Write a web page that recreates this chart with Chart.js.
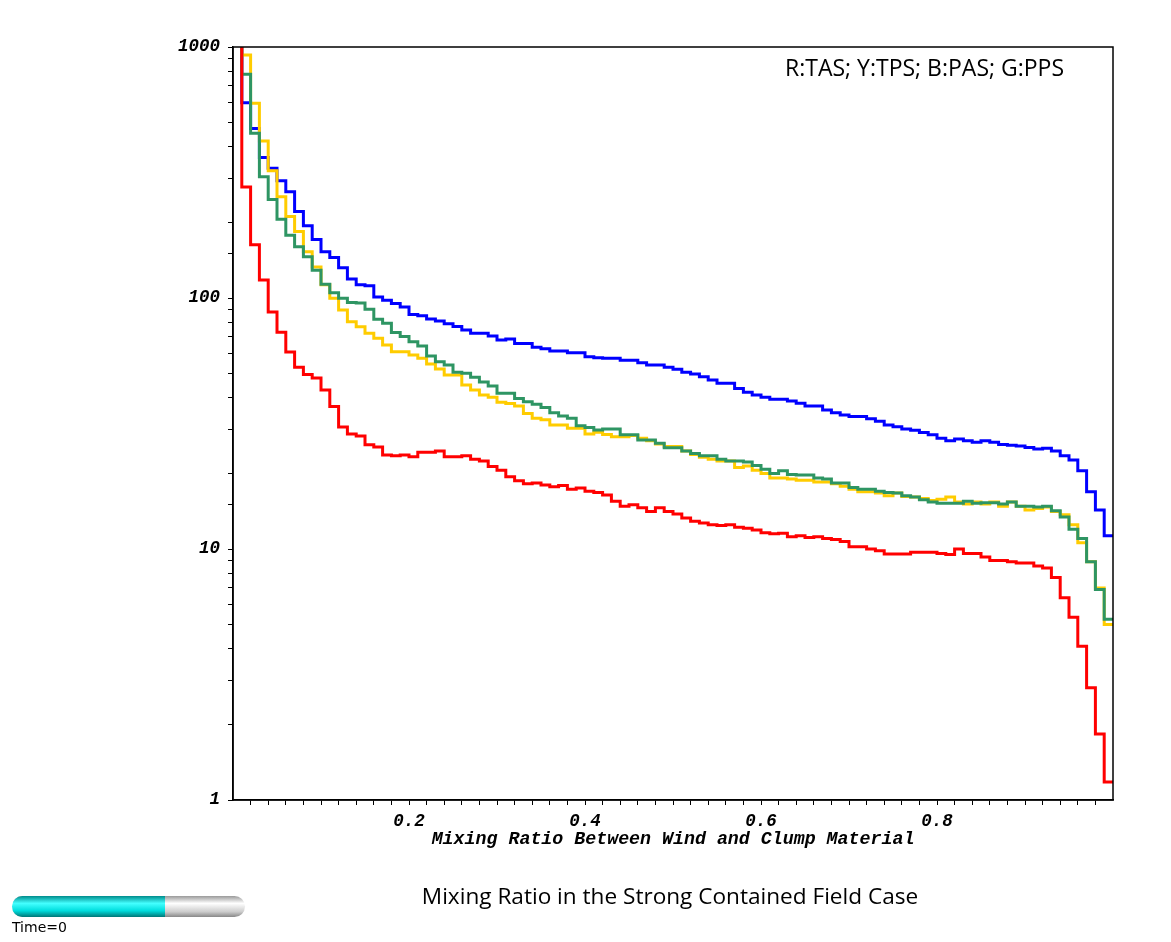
<!DOCTYPE html>
<html>
<head>
<meta charset="utf-8">
<script src="https://cdn.jsdelivr.net/npm/chart.js@4"></script>
<style>
  html, body { margin: 0; padding: 0; background: #fff; }
  #wrap { position: relative; width: 1171px; height: 942px; }
  #legendText { position: absolute; left: 785px; top: 51px; font: 23px "Open Sans", sans-serif; color: #000; white-space: nowrap; }
  #mainTitle { position: absolute; left: 0; width: 1340px; top: 880px; text-align: center; font: 22.6px "Open Sans", sans-serif; color: #000; }
  #bar { position: absolute; left: 12px; top: 896px; width: 233px; height: 21px; border-radius: 11px; overflow: hidden;
         background: linear-gradient(#9a9a9a, #fff 35%, #ccc 75%, #888); }
  #barFill { width: 153px; height: 100%; background: linear-gradient(#008c8c, #4ff 35%, #0dd 70%, #077); }
  #timeText { position: absolute; left: 12px; top: 919px; font: 14px "DejaVu Sans", sans-serif; color: #000; }
</style>
</head>
<body>
<div id="wrap">
  <canvas id="myChart" width="1171" height="942"></canvas>
  <div id="legendText">R:TAS; Y:TPS; B:PAS; G:PPS</div>
  <div id="mainTitle">Mixing Ratio in the Strong Contained Field Case</div>
  <div id="bar"><div id="barFill"></div></div>
  <div id="timeText">Time=0</div>
</div>
<script>
// bin width 0.01, value of each bin from 0.00 to 0.99
var binWidth = 0.01;

var redTAS = [2000, 277, 163, 118, 88, 73, 61, 53, 49.6, 48, 43, 37, 30.6, 28.7, 28.2, 26, 25.5, 23.7, 23.5, 23.7,
  23.3, 24.3, 24.3, 24.6, 23.3, 23.3, 23.5, 22.8, 22.4, 21.3, 20.6, 19.4, 18.7, 18.2, 18.3, 18.0, 17.7, 17.9, 17.3, 17.5,
  17.0, 16.8, 16.4, 15.5, 14.8, 15.0, 14.6, 14.1, 14.6, 14.1, 13.8, 13.3, 12.9, 12.7, 12.5, 12.4, 12.5, 12.2, 12.1, 11.9,
  11.6, 11.5, 11.55, 11.2, 11.3, 11.1, 11.2, 11.0, 10.9, 10.7, 10.2, 10.2, 10.0, 9.85, 9.55, 9.55, 9.55, 9.7, 9.7, 9.7,
  9.6, 9.5, 10.0, 9.6, 9.6, 9.3, 9.0, 9.0, 8.9, 8.8, 8.8, 8.55, 8.4, 7.7, 6.4, 5.35, 4.1, 2.8, 1.83, 1.18];

var yellowTPS = [2000, 930, 597, 422, 321, 253, 211, 184, 153, 133, 113, 99.7, 89.6, 80.5, 76.9, 72.3, 69.1, 65, 61.1, 61.1,
  59.3, 57.5, 54.6, 52.1, 49.3, 49.3, 45.0, 43.0, 41.1, 40.2, 38.4, 38.0, 37.1, 34.7, 33.2, 32.7, 31.2, 31.2, 30.3, 30.3,
  28.7, 29.2, 28.6, 28.0, 28.0, 28.3, 27.6, 27.0, 26.2, 25.6, 25.6, 24.6, 23.8, 23.2, 22.8, 22.4, 22.4, 21.1, 21.4, 20.6,
  20.0, 19.2, 19.2, 19.0, 18.8, 18.8, 18.5, 18.5, 18.2, 17.8, 17.3, 16.9, 16.9, 16.7, 16.3, 16.7, 16.2, 16.1, 15.9, 15.6,
  15.8, 16.1, 15.4, 15.1, 15.4, 15.1, 15.4, 14.8, 15.4, 14.8, 14.3, 14.5, 14.7, 14.1, 13.7, 12.5, 10.6, 8.9, 7.0, 5.0];

var bluePAS = [2000, 600, 474, 363, 329, 293, 265, 221, 194, 171, 153, 145, 132, 119, 113, 112, 101, 98, 95, 92,
  86, 85, 82.5, 81, 79, 77, 74.6, 72.3, 72.3, 70.6, 68, 68.7, 65.9, 65.9, 63.6, 62.8, 61.5, 61.5, 60.5, 60.5,
  58.3, 57.8, 57.5, 57.5, 56.5, 56.5, 55.2, 54.1, 54.1, 53, 52, 50.6, 49.8, 48.6, 47.1, 45.7, 45.7, 43.6, 42.1, 41.1,
  40.2, 39.5, 39.5, 38.9, 38.1, 37.1, 37.1, 35.8, 34.9, 34.2, 33.7, 33.7, 33.0, 32.3, 31.2, 30.7, 30.1, 29.7, 29.1, 28.5,
  27.6, 27.0, 27.4, 27.0, 26.6, 27.0, 26.6, 26.1, 25.9, 25.7, 25.4, 25.0, 25.2, 24.6, 23.5, 22.6, 20.5, 16.9, 14.3, 11.3];

var greenPPS = [2000, 778, 453, 304, 247, 206, 178, 160, 146, 129, 113.5, 105, 99.7, 96, 95.5, 90.2, 82.2, 79.3, 72.8, 70.2,
  67, 64.4, 58.7, 55.7, 54.1, 50.6, 50.1, 48.3, 46.3, 44.6, 41.7, 41.7, 39.8, 38.6, 37.7, 36.6, 34.9, 33.9, 33.2, 31.0,
  30.5, 29.8, 30.1, 30.1, 28.5, 28.5, 27.2, 27.2, 26.4, 25.3, 25.3, 24.6, 24.0, 23.5, 23.5, 22.8, 22.4, 22.4, 22.2, 21.5,
  20.8, 20.0, 20.5, 19.8, 19.7, 19.7, 19.2, 19.0, 18.3, 18.3, 17.6, 17.3, 17.3, 17.0, 16.8, 16.7, 16.3, 16.1, 15.7, 15.4,
  15.2, 15.2, 15.2, 15.5, 15.2, 15.3, 15.3, 15.1, 15.4, 14.8, 14.8, 14.7, 14.8, 14.2, 13.4, 12.0, 11.0, 8.9, 6.9, 5.25];

var xTickLabels = [0.2, 0.4, 0.6, 0.8];
var yTickLabels = [1, 10, 100, 1000];

function toSteps(values) {
  var pts = values.map(function (v, i) { return { x: i * binWidth, y: v }; });
  pts.push({ x: values.length * binWidth, y: values[values.length - 1] });
  return pts;
}

function series(values, color) {
  return {
    data: toSteps(values),
    borderColor: color,
    borderWidth: 3,
    pointRadius: 0,
    stepped: 'before',
    fill: false
  };
}

var tickFont = { family: '"Liberation Mono", monospace', size: 17.5, weight: 'bold', style: 'italic' };
var titleFont = { family: '"Liberation Mono", monospace', size: 18.3, weight: 'bold', style: 'italic' };

var frame = {
  id: 'frame',
  afterDraw: function (chart) {
    var a = chart.chartArea, ctx = chart.ctx;
    ctx.save();
    ctx.strokeStyle = '#000';
    ctx.lineWidth = 1.5;
    ctx.strokeRect(a.left, a.top, a.right - a.left, a.bottom - a.top);
    ctx.restore();
  }
};

new Chart('myChart', {
  type: 'line',
  data: {
    datasets: [
      series(redTAS, '#ff0000'),
      series(greenPPS, '#2e9563'),
      series(yellowTPS, '#ffcc00'),
      series(bluePAS, '#0000ff')
    ]
  },
  plugins: [frame],
  options: {
    responsive: false,
    animation: false,
    layout: { padding: { top: 47, right: 58, left: 0, bottom: 92 } },
    plugins: { legend: { display: false }, tooltip: { enabled: false } },
    scales: {
      x: {
        type: 'linear',
        min: 0,
        max: 1,
        afterFit: function (scale) { scale.height = 50; },
        afterBuildTicks: function (scale) {
          var t = [];
          for (var i = 1; i < 50; i++) t.push({ value: i * 0.02 });
          scale.ticks = t;
        },
        grid: { drawOnChartArea: false, tickLength: 5, color: '#000' },
        border: { color: '#000', width: 1.5 },
        ticks: {
          autoSkip: false,
          maxRotation: 0,
          padding: 6,
          color: '#000',
          font: tickFont,
          callback: function (v) {
            var hit = xTickLabels.find(function (l) { return Math.abs(l - v) < 1e-6; });
            return hit ? hit.toFixed(1) : '';
          }
        },
        title: {
          display: true,
          text: 'Mixing Ratio Between Wind and Clump Material',
          color: '#000',
          font: titleFont,
          padding: { top: 0, bottom: 0 }
        }
      },
      y: {
        type: 'logarithmic',
        min: 1,
        max: 1000,
        afterFit: function (scale) { scale.width = 233; },
        grid: { drawOnChartArea: false, tickLength: 5, color: '#000' },
        border: { color: '#000', width: 1.5 },
        ticks: {
          autoSkip: false,
          padding: 8,
          color: '#000',
          font: tickFont,
          callback: function (v) {
            return yTickLabels.indexOf(v) >= 0 ? String(v) : '';
          }
        }
      }
    }
  }
});
</script>
</body>
</html>
